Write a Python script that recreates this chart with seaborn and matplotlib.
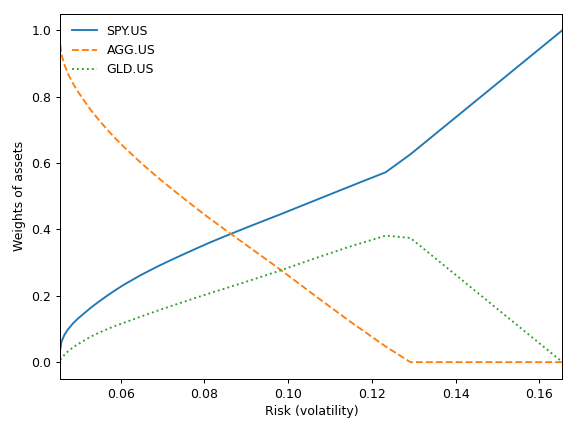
import matplotlib
matplotlib.use("Agg")
import matplotlib.pyplot as plt
import pandas as pd
import seaborn as sns

# portfolio risk (volatility) along the frontier
risk = [0.0456, 0.0459, 0.0466, 0.0474, 0.0486, 0.0498, 0.0514, 0.0529, 0.0549, 0.0569,
        0.0589, 0.0609, 0.0648, 0.0688, 0.0728, 0.0768, 0.0807, 0.0847, 0.0902, 0.0979,
        0.1058, 0.1145, 0.1233, 0.1292, 0.1655]
spy = [0.037, 0.062, 0.082, 0.098, 0.116, 0.131, 0.148, 0.164, 0.183, 0.201,
       0.218, 0.234, 0.262, 0.288, 0.312, 0.335, 0.357, 0.378, 0.406, 0.444,
       0.484, 0.528, 0.572, 0.626, 1.0]
agg = [0.956, 0.926, 0.896, 0.870, 0.840, 0.815, 0.786, 0.759, 0.728, 0.699,
       0.672, 0.647, 0.601, 0.557, 0.516, 0.476, 0.438, 0.401, 0.351, 0.281,
       0.206, 0.125, 0.047, 0.0, 0.0]
gld = [0.007, 0.012, 0.022, 0.032, 0.044, 0.054, 0.066, 0.077, 0.089, 0.100,
       0.110, 0.119, 0.137, 0.155, 0.172, 0.189, 0.205, 0.221, 0.243, 0.275,
       0.310, 0.347, 0.381, 0.374, 0.0]

df = pd.DataFrame({"risk": risk, "SPY.US": spy, "AGG.US": agg, "GLD.US": gld})

fig, ax = plt.subplots(figsize=(6.4, 4.8), dpi=90)

sns.lineplot(data=df, x="risk", y="SPY.US", ax=ax, color="C0", linestyle="-", label="SPY.US")
sns.lineplot(data=df, x="risk", y="AGG.US", ax=ax, color="C1", linestyle="--", label="AGG.US")
sns.lineplot(data=df, x="risk", y="GLD.US", ax=ax, color="C2", linestyle=":", label="GLD.US")

ax.set_xlim(min(risk), max(risk))
ax.set_xlabel("Risk (volatility)")
ax.set_ylabel("Weights of assets")
ax.legend(loc="upper left", frameon=False)

fig.tight_layout()
plt.savefig("out.png", dpi=90)
